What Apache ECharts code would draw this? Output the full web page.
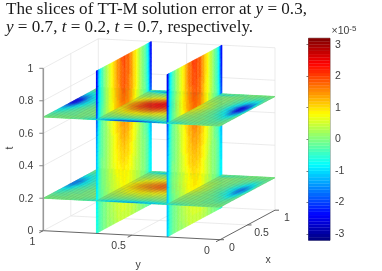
<!DOCTYPE html>
<html>
<head>
<meta charset="utf-8">
<style>html,body{margin:0;padding:0;background:#fff}#c{width:382px;height:271px}</style>
<script src="https://cdn.jsdelivr.net/npm/echarts@6/dist/echarts.min.js"></script>
</head>
<body>
<div id="c"></div>
<script>
// ---- data: solution error (x 1e-5) ----
const xNodes = [0,.02,.05,.1,.2,.3,.4,.5,.6,.7,.8,.9,.95,.98,1];
const yNodes = [0,.03,.06,.1,.15,.2,.3,.4,.5,.6,.7,.8,.85,.9,.94,.97,1];
const tNodes = [0,.1,.2,.3,.4,.5,.6,.7,.8,.9,1];

// rows: yNodes, columns: xNodes
const planeT07 = [
[-.1,-.1,-.1,-.1,-.1,-.1,-.2,-.3,-.3,-.2,-.1,-.1,-.1,-.1,-.1],
[-.1,-.1,-.1,-.1,-.3,-.6,-1.2,-1.9,-2,-1.5,-.8,-.3,-.1,-.1,-.1],
[-.1,-.1,-.1,-.2,-.4,-.8,-1.6,-2.5,-2.6,-1.6,-.8,-.3,-.2,-.1,-.1],
[-.1,-.1,-.1,-.2,-.3,-.5,-.8,-1.2,-1.3,-.9,-.5,-.2,-.1,-.1,-.1],
[-.1,-.1,-.1,-.1,-.1,-.2,-.3,-.4,-.4,-.3,-.2,-.1,-.1,-.1,-.1],
[-.1,-.2,-.2,-.1,0,0,0,0,0,0,0,0,-.1,-.2,-.1],
[-.1,-1,-.6,-.2,.1,.3,.6,.8,.8,.5,.2,0,-.3,-.9,-.1],
[-.2,-1.9,-1,-.3,.3,.8,1.4,1.8,1.9,1.3,.5,-.1,-.7,-1.7,-.3],
[-.3,-2.3,-1.2,-.4,.4,1.1,1.9,2.4,2.5,1.8,.7,-.2,-.9,-2.1,-.4],
[-.3,-2.1,-1.1,-.3,.3,.9,1.6,2.1,2.1,1.4,.5,-.1,-.8,-1.9,-.3],
[-.2,-1,-.6,-.2,.1,.4,.7,1,1,.6,.2,0,-.3,-.9,-.1],
[-.1,-.2,-.1,-.1,0,0,0,0,0,0,0,0,-.1,-.2,-.1],
[-.1,-.1,-.1,-.1,-.1,-.1,-.2,-.3,-.3,-.2,-.1,-.1,-.1,-.1,-.1],
[-.1,-.1,-.1,-.1,-.2,-.3,-.5,-.7,-.7,-.5,-.3,-.1,-.1,-.1,-.1],
[-.1,-.1,-.1,-.1,-.3,-.5,-.9,-1.3,-1.3,-1,-.5,-.2,-.1,-.1,-.1],
[-.1,-.1,-.1,-.2,-.4,-.8,-1.4,-2.2,-2.3,-1.5,-.8,-.3,-.1,-.1,-.1],
[-.1,-.1,-.1,-.2,-.5,-.9,-1.6,-2.4,-2.5,-1.7,-.9,-.3,-.1,-.1,-.1]
];
const planeT02 = [
[-.1,-.1,-.1,-.1,-.1,-.1,-.1,-.2,-.2,-.1,-.1,-.1,-.1,-.1,-.1],
[-.1,-.1,-.1,-.1,-.2,-.4,-.7,-1.2,-1.3,-.9,-.5,-.2,-.1,-.1,-.1],
[-.1,-.1,-.1,-.1,-.3,-.6,-1.1,-1.6,-1.7,-1.1,-.6,-.2,-.1,-.1,-.1],
[-.1,-.1,-.1,-.1,-.2,-.3,-.6,-.8,-.9,-.6,-.3,-.1,-.1,-.1,-.1],
[-.1,-.1,-.1,-.1,-.1,-.1,-.2,-.3,-.3,-.2,-.1,-.1,-.1,-.1,-.1],
[-.1,-.2,-.1,-.1,0,0,0,0,0,0,0,0,-.1,-.2,-.1],
[-.1,-.7,-.4,-.1,.1,.2,.4,.6,.6,.4,.2,0,-.2,-.6,-.1],
[-.1,-1.2,-.7,-.2,.2,.6,1,1.3,1.4,.9,.4,0,-.5,-1.1,-.2],
[-.2,-1.5,-.8,-.2,.3,.7,1.2,1.8,1.8,1.2,.5,-.1,-.6,-1.4,-.2],
[-.2,-1.3,-.7,-.2,.2,.6,1,1.4,1.4,1,.4,0,-.5,-1.2,-.2],
[-.1,-.7,-.4,-.1,.1,.3,.5,.7,.7,.4,.2,0,-.2,-.6,-.1],
[-.1,-.2,-.1,-.1,0,0,0,0,0,0,0,0,-.1,-.2,-.1],
[-.1,-.1,-.1,-.1,-.1,-.1,-.2,-.2,-.2,-.2,-.1,-.1,-.1,-.1,-.1],
[-.1,-.1,-.1,-.1,-.1,-.2,-.4,-.5,-.5,-.4,-.2,-.1,-.1,-.1,-.1],
[-.1,-.1,-.1,-.1,-.2,-.4,-.6,-.9,-.9,-.7,-.4,-.1,-.1,-.1,-.1],
[-.1,-.1,-.1,-.1,-.3,-.6,-1,-1.4,-1.5,-1,-.6,-.2,-.1,-.1,-.1],
[-.1,-.1,-.1,-.1,-.3,-.6,-1.1,-1.6,-1.6,-1.1,-.6,-.2,-.1,-.1,-.1]
];
// rows: tNodes, columns: xNodes
const planeY07 = [
[-.4,-.7,-.4,-.2,.1,.2,.4,.4,.4,.3,.1,-.1,-.3,-.6,-.5],
[-.5,-.8,-.4,-.2,.1,.3,.5,.6,.5,.4,.1,-.1,-.4,-.7,-.6],
[-.7,-.9,-.4,-.2,.1,.4,.6,.8,.7,.5,.2,-.1,-.4,-.8,-.8],
[-.9,-1,-.4,-.1,.2,.5,.8,.9,.8,.5,.2,-.1,-.4,-.8,-.9],
[-1.1,-1.1,-.5,-.1,.2,.6,.9,1.1,1,.6,.2,-.1,-.4,-.9,-1],
[-1.3,-1.2,-.5,-.2,.2,.6,1,1.3,1.1,.7,.2,-.2,-.5,-1,-1.2],
[-1.5,-1.4,-.6,-.2,.2,.7,1.1,1.5,1.3,.8,.3,-.2,-.5,-1.2,-1.5],
[-1.9,-1.8,-.8,-.3,.3,.8,1.3,1.7,1.5,.9,.3,-.2,-.7,-1.5,-1.9],
[-2.2,-2.1,-.9,-.4,.3,.9,1.4,1.9,1.6,1,.3,-.3,-.8,-1.7,-2.2],
[-2.4,-2.3,-1,-.4,.3,.9,1.5,1.9,1.7,1,.3,-.3,-.8,-1.8,-2.4],
[-2.5,-2.4,-1.1,-.5,.3,.9,1.5,2,1.7,1,.3,-.3,-.9,-1.9,-2.5]
];
const planeY03 = [
[-1,-1.1,-.5,-.2,.1,.2,.4,.4,.4,.3,.1,-.1,-.3,-.7,-.6],
[-1.1,-1.2,-.5,-.2,.1,.3,.5,.6,.6,.4,.1,-.1,-.4,-.8,-.7],
[-1.2,-1.2,-.5,-.2,.1,.4,.7,.9,.8,.5,.2,-.1,-.4,-.9,-.8],
[-1.2,-1.2,-.5,-.1,.2,.5,.8,1,.9,.6,.2,-.1,-.4,-.9,-.9],
[-1.3,-1.3,-.6,-.1,.2,.6,1,1.2,1.1,.7,.2,-.1,-.4,-1,-1],
[-1.5,-1.4,-.6,-.2,.2,.7,1.1,1.4,1.2,.8,.3,-.2,-.5,-1.1,-1.2],
[-1.7,-1.6,-.7,-.2,.2,.7,1.2,1.6,1.4,.9,.3,-.2,-.5,-1.3,-1.5],
[-2,-1.9,-.8,-.3,.3,.8,1.4,1.8,1.6,1,.3,-.2,-.7,-1.5,-1.9],
[-2.3,-2.2,-.9,-.4,.3,.9,1.5,1.9,1.7,1,.4,-.3,-.8,-1.7,-2.2],
[-2.5,-2.4,-1,-.4,.3,.9,1.6,2,1.8,1.1,.4,-.3,-.8,-1.8,-2.4],
[-2.6,-2.5,-1.1,-.5,.3,.9,1.6,2.1,1.8,1.1,.4,-.3,-.9,-1.9,-2.5]
];

// tick labels
const tTicks = [0,.2,.4,.6,.8,1];
const xTicks = [0,.5,1];
const yTicks = [0,.5,1];
const cbTicks = [-3,-2,-1,0,1,2,3];

// ---- view and colour map (styling) ----
const ORIGIN=[43.3,230.7], VX=[55,-29.5], VY=[176.7,9], VT=-162.4;
const project=(x,y,t)=>[ORIGIN[0]+x*VX[0]+(1-y)*VY[0], ORIGIN[1]+x*VX[1]+(1-y)*VY[1]+t*VT];
const CLIM=[-3.2,3.2], LEVELS=64;
const JET=[[0,[0,0,.5]],[.125,[0,0,1]],[.375,[0,1,1]],[.625,[1,1,0]],[.875,[1,0,0]],[1,[.5,0,0]]];
function jet(v){
  let u=(v-CLIM[0])/(CLIM[1]-CLIM[0]); u=Math.min(.999,Math.max(0,u));
  u=(Math.floor(u*LEVELS)+.5)/LEVELS;
  let i=0; while(i<JET.length-2&&u>JET[i+1][0])i++;
  const a=JET[i],b=JET[i+1],f=(u-a[0])/(b[0]-a[0]);
  const c=a[1].map((p,k)=>Math.round(255*(p+(b[1][k]-p)*f)));
  return 'rgb('+c.join(',')+')';
}
const TXT='#404040', FONT='"Liberation Sans",Arial,sans-serif', SUB=4, MESH=40;

// ---- surfaces in back-to-front order ----
const items=[];
function addPlane(t,field,yFrom,yTo){
  for(let j=0;j<yNodes.length-1;j++){
    if(yNodes[j]<yFrom-1e-9||yNodes[j+1]>yTo+1e-9)continue;
    for(let i=0;i<xNodes.length-1;i++)items.push({k:'t',t,field,i,j});
  }
  for(let n=0;n<=MESH;n++){
    const p=n/MESH;
    if(p>=yFrom-1e-9&&p<=yTo+1e-9)items.push({k:'m',a:project(0,p,t),b:project(1,p,t)});
    items.push({k:'m',a:project(p,yFrom,t),b:project(p,yTo,t)});
  }
}
function addSlice(y,field){
  for(let j=0;j<tNodes.length-1;j++)for(let i=0;i<xNodes.length-1;i++)items.push({k:'y',y,field,i,j});
}
addPlane(.2,planeT02,.7,1); addPlane(.7,planeT07,.7,1); addSlice(.7,planeY07);
addPlane(.2,planeT02,.3,.7); addPlane(.7,planeT07,.3,.7); addSlice(.3,planeY03);
addPlane(.2,planeT02,0,.3); addPlane(.7,planeT07,0,.3);

function renderSurface(params,api){
  const it=items[params.dataIndex];
  const C=p=>api.coord(p);
  if(it.k==='m')return {type:'line',shape:{x1:C(it.a)[0],y1:C(it.a)[1],x2:C(it.b)[0],y2:C(it.b)[1]},
    style:{stroke:'rgba(80,80,80,.3)',lineWidth:.5},silent:true};
  const {i,j,field}=it, v=it.k==='t'?yNodes:tNodes;
  const x0=xNodes[i],x1=xNodes[i+1],v0=v[j],v1=v[j+1];
  const a=field[j][i],b=field[j][i+1],c=field[j+1][i],d=field[j+1][i+1];
  const P=(x,w)=>C(it.k==='t'?project(x,w,it.t):project(x,it.y,w));
  const kids=[];
  for(let m=0;m<SUB;m++)for(let n=0;n<SUB;n++){
    const fx=(m+.5)/SUB,fv=(n+.5)/SUB;
    const val=(a*(1-fx)+b*fx)*(1-fv)+(c*(1-fx)+d*fx)*fv;
    const xa=x0+(x1-x0)*m/SUB,xb=x0+(x1-x0)*(m+1)/SUB,va=v0+(v1-v0)*n/SUB,vb=v0+(v1-v0)*(n+1)/SUB;
    const col=jet(val);
    kids.push({type:'polygon',shape:{points:[P(xa,va),P(xb,va),P(xb,vb),P(xa,vb)]},
      style:{fill:col,stroke:col,lineWidth:.4},silent:true});
  }
  return {type:'group',children:kids};
}

// ---- axes box ----
const boxLines=[];
const GRIDC='#e6e6e6';
tTicks.forEach(t=>{
  boxLines.push([project(0,1,t),project(1,1,t),GRIDC,.8]);
  boxLines.push([project(1,1,t),project(1,0,t),GRIDC,.8]);
});
[.5].forEach(p=>{
  boxLines.push([project(p,1,0),project(p,1,1),GRIDC,.8]);
  boxLines.push([project(1,p,0),project(1,p,1),GRIDC,.8]);
  boxLines.push([project(p,1,0),project(p,0,0),GRIDC,.8]);
  boxLines.push([project(0,p,0),project(1,p,0),GRIDC,.8]);
});
boxLines.push([project(1,1,0),project(1,1,1),GRIDC,.8]);
boxLines.push([project(1,0,0),project(1,0,1),GRIDC,.8]);
const axisLines=[];
const DARK='#555';
axisLines.push([project(0,1,0),project(0,0,0),DARK,.9]);
axisLines.push([project(0,0,0),project(1,0,0),DARK,.9]);
axisLines.push([project(0,1,0),project(0,1,1),'#999',1.6]);
const seg=(p,dx,dy)=>[p,[p[0]+dx,p[1]+dy]];
tTicks.forEach(t=>axisLines.push([...seg(project(0,1,t),-4,0),'#888',1]));
yTicks.forEach(y=>axisLines.push([...seg(project(0,y,0),-4,2),DARK,.9]));
xTicks.forEach(x=>axisLines.push([...seg(project(x,0,0),4,0),DARK,.9]));

const labels=[];
tTicks.forEach(t=>{const p=project(0,1,t);labels.push([String(t),p[0]-10,p[1]+.5,'right',0]);});
yTicks.forEach(y=>{const p=project(0,y,0);labels.push([String(y),p[0]-(y===1?11:13),p[1]+11,'center',0]);});
xTicks.forEach(x=>{const p=project(x,0,0);labels.push([String(x),p[0]+(x===.5?14:12),p[1]+8,'center',0]);});
labels.push(['t',10,148,'center',Math.PI/2]);
labels.push(['y',138,265,'center',0]);
labels.push(['x',268,260,'center',0]);

const colorLevels=[];
for(let i=0;i<LEVELS;i++)colorLevels.push(CLIM[0]+(CLIM[1]-CLIM[0])*i/LEVELS);

const lineSeries=(data)=>({type:'custom',coordinateSystem:'cartesian2d',xAxisIndex:0,yAxisIndex:0,silent:true,
  clip:false,animation:false,data:data.map((_,i)=>i),
  renderItem:(p,api)=>{const l=data[p.dataIndex],a=api.coord(l[0]),b=api.coord(l[1]);
    return {type:'line',shape:{x1:a[0],y1:a[1],x2:b[0],y2:b[1]},style:{stroke:l[2],lineWidth:l[3]}};}});

const chart=echarts.init(document.getElementById('c'),null,{renderer:'canvas'});
chart.setOption({
  animation:false,
  backgroundColor:'#fff',
  title:{left:6,top:0,padding:0,
    text:'{r|The slices of TT-M solution error at }{i|y}{r| = 0.3,}\n{i|y}{r| = 0.7, }{i|t}{r| = 0.2, }{i|t}{r| = 0.7, respectively.}',
    textStyle:{fontWeight:'normal',rich:{
      r:{fontFamily:'"Liberation Serif",serif',fontWeight:'normal',fontSize:17.1,color:'#1a1a1a',lineHeight:18},
      i:{fontFamily:'"Liberation Serif",serif',fontWeight:'normal',fontStyle:'italic',fontSize:17.1,color:'#1a1a1a',lineHeight:18}}}},
  grid:[
    {left:0,top:0,width:382,height:271,show:false},
    {left:308.5,top:38.3,width:21.5,height:202,show:true,borderColor:'#444',borderWidth:.7,backgroundColor:'transparent'}
  ],
  xAxis:[
    {gridIndex:0,type:'value',min:0,max:382,show:false},
    {gridIndex:1,type:'value',min:0,max:1,show:false}
  ],
  yAxis:[
    {gridIndex:0,type:'value',min:0,max:271,inverse:true,show:false},
    {gridIndex:1,type:'value',min:CLIM[0],max:CLIM[1],position:'right',
     axisLine:{show:false},splitLine:{show:false},
     axisTick:{show:true,inside:true,length:2,customValues:cbTicks,lineStyle:{color:'#444',width:.7}},
     axisLabel:{show:true,customValues:cbTicks,margin:5,color:TXT,fontSize:10.5,fontFamily:FONT},
     name:'{a|×10}{b|-5}',nameLocation:'end',nameGap:0,
     nameTextStyle:{align:'left',padding:[0,0,0,23],rich:{a:{fontSize:10.5,color:TXT,fontFamily:FONT},b:{fontSize:8,color:TXT,fontFamily:FONT,verticalAlign:'top',padding:[0,0,6,0]}}}}
  ],
  series:[
    lineSeries(boxLines),
    {type:'custom',coordinateSystem:'cartesian2d',xAxisIndex:0,yAxisIndex:0,silent:true,clip:false,progressive:0,
     animation:false,data:items.map((_,i)=>i),renderItem:renderSurface},
    lineSeries(axisLines),
    {type:'custom',coordinateSystem:'cartesian2d',xAxisIndex:0,yAxisIndex:0,silent:true,clip:false,animation:false,
     data:labels.map((_,i)=>i),
     renderItem:(p,api)=>{const l=labels[p.dataIndex],c=api.coord([l[1],l[2]]);
       return {type:'text',x:c[0],y:c[1],rotation:l[4],style:{text:l[0],fontSize:10.5,fontFamily:FONT,fill:TXT,align:l[3],verticalAlign:'middle'}};}},
    {type:'custom',coordinateSystem:'cartesian2d',xAxisIndex:1,yAxisIndex:1,silent:true,progressive:0,animation:false,
     data:colorLevels,
     renderItem:(p,api)=>{const v=colorLevels[p.dataIndex],step=(CLIM[1]-CLIM[0])/LEVELS;
       const a=api.coord([0,v]),b=api.coord([1,v+step]);
       const col=jet(v+step/2);
       return {type:'rect',shape:{x:a[0],y:b[1],width:b[0]-a[0],height:a[1]-b[1]},style:{fill:col,stroke:col,lineWidth:.3}};}}
  ]
});
</script>
</body>
</html>
